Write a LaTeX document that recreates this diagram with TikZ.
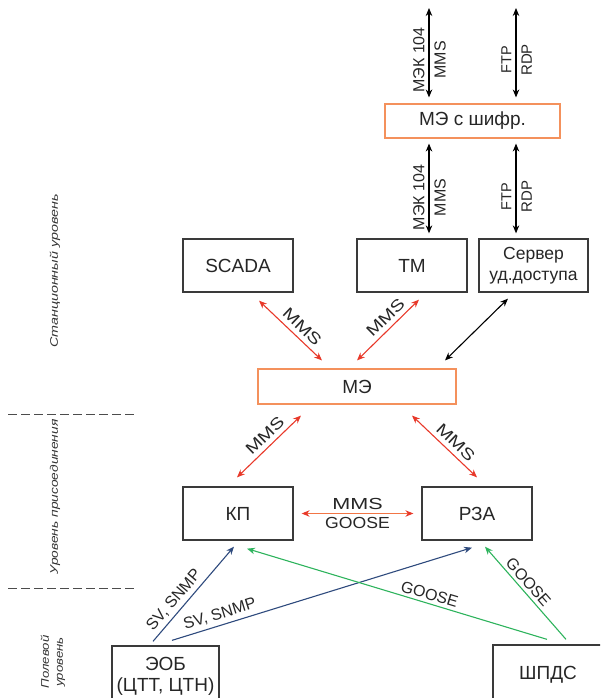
\documentclass[tikz,border=0pt]{standalone}
\usepackage{fontspec}
\setmainfont{Liberation Sans}
\usetikzlibrary{arrows.meta}
\definecolor{redA}{HTML}{E8392A}
\definecolor{orgA}{HTML}{F4915C}
\definecolor{orgL}{HTML}{F27545}
\definecolor{bluA}{HTML}{2E4A7D}
\definecolor{grnA}{HTML}{2DB35C}
\definecolor{boxC}{HTML}{3A3A3A}
\begin{document}
\begin{tikzpicture}[x=1pt,y=-1pt,
  box/.style={draw=boxC, line width=1.3pt, inner sep=0pt, minimum width=110pt, minimum height=53pt, font=\fontsize{19}{21}\selectfont, text=black!85},
  mebox/.style={draw=orgA, line width=1.1pt, inner sep=0pt, font=\fontsize{19}{21}\selectfont, text=black!85},
  conn/.style={line width=1.1pt},
  redbi/.style={conn, draw=redA, {Stealth[length=8pt,width=6.5pt]}-{Stealth[length=8pt,width=6.5pt]}},
  blkbi/.style={conn, draw=black, {Stealth[length=8pt,width=6.5pt]}-{Stealth[length=8pt,width=6.5pt]}},
  bluar/.style={conn, draw=bluA, -{Stealth[length=8pt,width=6.5pt]}},
  grnar/.style={conn, draw=grnA, -{Stealth[length=8pt,width=6.5pt]}},
  lbl/.style={font=\fontsize{16}{18}\selectfont, text=black!85, inner sep=4.5pt},
  lvl/.style={font=\fontsize{11}{14}\selectfont\itshape, text=black!80, rotate=90, inner sep=0pt},
  sep/.style={draw=black!70, line width=1pt, dash pattern=on 9pt off 4pt}
]
\path[use as bounding box] (0,0) rectangle (600,698);
\clip (0,0) rectangle (600,698);

% boxes
\node[mebox, minimum width=175pt, minimum height=34pt] (enc) at (472.5,121) {МЭ с шифр.};
\node[box] (scada) at (238,265.5) {SCADA};
\node[box] (tm) at (412,265.5) {ТМ};
\node[box, minimum width=109pt, align=center, font=\fontsize{17.5}{21}\selectfont] (srv) at (533.5,265.5) {Сервер\\уд.доступа};
\node[mebox, minimum width=198pt, minimum height=35pt] (me) at (357,386.5) {МЭ};
\node[box] (kp) at (238,513.5) {КП};
\node[box] (rza) at (477,513.5) {РЗА};
\node[box, minimum width=107pt, minimum height=60pt, align=center, font=\fontsize{19}{21}\selectfont] (eob) at (165.5,676) {ЭОБ\\(ЦТТ, ЦТН)};
\node[box, minimum width=110pt, minimum height=60pt] (shp) at (548,675) {ШПДС};

% level labels
\node[lvl] (lst) at (55,271) {\scalebox{1.3}[1]{Станционный уровень}};
\node[lvl] (lpr) at (55,497) {\scalebox{1.25}[1]{Уровень присоединения}};
\node[lvl, align=center] (lpo) at (53,662) {\scalebox{1.2}[1]{Полевой}\\\scalebox{1.2}[1]{уровень}};
\draw[sep] (8,414) -- (135,414);
\draw[sep] (8,588) -- (135,588);

% top free ends
\coordinate (t1) at (429,8);
\coordinate (t2) at (516,8);

% top arrows
\draw[blkbi] ([xshift=-43.5pt,yshift=6pt]enc.north) -- (t1)
  node[lbl, pos=0.42, sloped, above, inner sep=4pt] (l1) {МЭК 104}
  node[lbl, pos=0.42, sloped, below, inner sep=5pt] (l2) {MMS};
\draw[blkbi] ([xshift=43.5pt,yshift=6pt]enc.north) -- (t2)
  node[lbl, pos=0.42, sloped, above, inner sep=4pt, font=\fontsize{14.5}{17}\selectfont] (l3) {FTP}
  node[lbl, pos=0.42, sloped, below, inner sep=5pt, font=\fontsize{15}{17}\selectfont] (l4) {RDP};
% lower vertical arrows
\draw[blkbi] ([xshift=17pt,yshift=5pt]tm.north) -- ([xshift=-43.5pt,yshift=-5pt]enc.south)
  node[lbl, pos=0.40, sloped, above, inner sep=4pt] (l5) {МЭК 104}
  node[lbl, pos=0.40, sloped, below, inner sep=5pt] (l6) {MMS};
\draw[blkbi] ([xshift=-17.5pt,yshift=5pt]srv.north) -- ([xshift=43.5pt,yshift=-5pt]enc.south)
  node[lbl, pos=0.41, sloped, above, inner sep=4pt, font=\fontsize{14.5}{17}\selectfont] (l7) {FTP}
  node[lbl, pos=0.41, sloped, below, inner sep=5pt, font=\fontsize{15}{17}\selectfont] (l8) {RDP};

% station level
\draw[redbi] ([xshift=21pt,yshift=-8pt]scada.south) -- ([xshift=-35pt,yshift=8pt]me.north)
  node[lbl, pos=0.57, sloped, above] (l9) {\scalebox{1.25}[1]{MMS}};
\draw[redbi] ([xshift=7pt,yshift=-7pt]tm.south) -- ([xshift=0pt,yshift=8pt]me.north)
  node[lbl, pos=0.42, sloped, above] (l10) {\scalebox{1.25}[1]{MMS}};
\draw[blkbi] ([xshift=-25.5pt,yshift=-6pt]srv.south) -- ([xshift=88pt,yshift=8pt]me.north);

% bay level
\draw[redbi] ([xshift=-56pt,yshift=-11pt]me.south) -- ([xshift=-1pt,yshift=9pt]kp.north)
  node[lbl, pos=0.45, sloped, above] (l11) {\scalebox{1.25}[1]{MMS}};
\draw[redbi] ([xshift=55pt,yshift=-11pt]me.south) -- ([xshift=0pt,yshift=9pt]rza.north)
  node[lbl, pos=0.56, sloped, above] (l12) {\scalebox{1.25}[1]{MMS}};
\draw[conn, draw=orgL, {Stealth[length=8pt,width=6.5pt,color=redA]}-{Stealth[length=8pt,width=6.5pt,color=redA]}]
  ([xshift=8pt]kp.east) -- ([xshift=-8pt]rza.west)
  node[lbl, midway, above, inner sep=3pt] (l13) {\scalebox{1.35}[1]{MMS}}
  node[lbl, midway, below, inner sep=3pt] (l14) {\scalebox{1.1}[1]{GOOSE}};

% field level
\draw[bluar] ([xshift=-12.5pt,yshift=4pt]eob.north) -- ([xshift=-4pt,yshift=-6pt]kp.south)
  node[lbl, pos=0.36, sloped, above, inner sep=3.5pt] (l15) {SV, SNMP};
\draw[bluar] ([xshift=6.5pt,yshift=5pt]eob.north) -- ([xshift=-5pt,yshift=-7pt]rza.south)
  node[lbl, pos=0.17, sloped, above, inner sep=3.5pt] (l16) {SV, SNMP};
\draw[grnar] ([xshift=-1pt,yshift=5pt]shp.north) -- ([xshift=9pt,yshift=-8pt]kp.south)
  node[lbl, pos=0.40, sloped, above, inner sep=3pt] (l17) {GOOSE};
\draw[grnar] ([xshift=18pt,yshift=5pt]shp.north) -- ([xshift=8pt,yshift=-6pt]rza.south)
  node[lbl, pos=0.55, sloped, above, inner sep=3pt] (l18) {GOOSE};
\end{tikzpicture}
\end{document}
